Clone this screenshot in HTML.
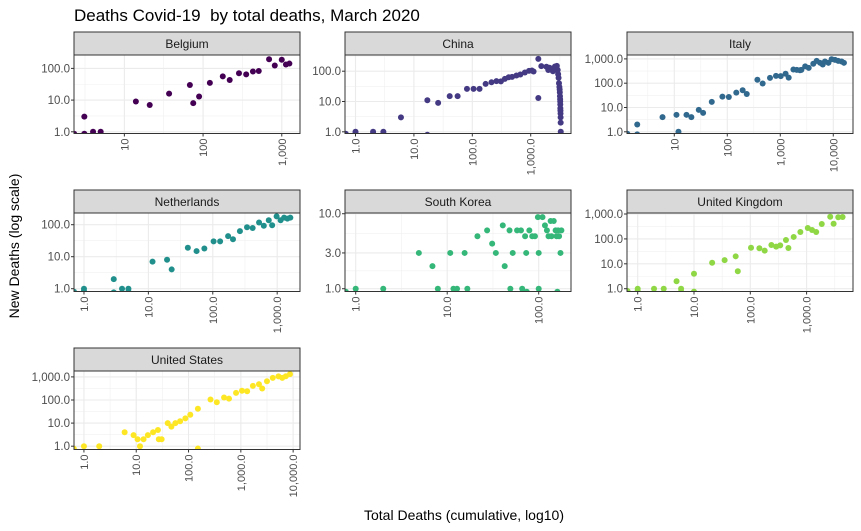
<!DOCTYPE html>
<html><head><meta charset="utf-8"><style>
body{margin:0;background:#fff;}
svg{display:block;font-family:"Liberation Sans",sans-serif;}
</style></head><body>
<svg id="chart" width="861" height="531" viewBox="0 0 861 531" xmlns="http://www.w3.org/2000/svg">
<text x="74" y="21" font-size="17" fill="#000">Deaths Covid-19&#160; by total deaths, March 2020</text>
<text transform="translate(19,246) rotate(-90)" text-anchor="middle" font-size="14" fill="#000">New Deaths (log scale)</text>
<text x="464" y="520" text-anchor="middle" font-size="14" fill="#000">Total Deaths (cumulative, log10)</text>
</svg>
<script>
const belgiumTotal=[2.3,3.1,3.1,4,5,14,21,37,68,75,89,122,178,218,286,353,430,510,690,815,1000,1130,1250];
const belgiumNew=[0.87,0.87,3,1,1,9,7,16,30,8,13,35,56,43,70,65,80,83,195,123,187,133,142];
const chinaTotal=[0.68,1,1,2,2,3,3,6,17,17,26,41,56,81,105,133,169,213,259,309,361,420,480,570,665,795,935,1050,1120,1350,1350,1520,1860,2000,2100,2270,2400,2500,2600,2700,2800,2900,2950,3000,3050,3100,3130,3150,3170,3190,3200,3210,3220,3230,3240,3250,3260,3270];
const chinaNew=[0.86,1,0.86,1,0.86,1,0.86,3,11,0.8,9,15,15,26,26,26,38,43,47,46,56,63,65,72,78,91,103,105,98,255,13,147,140,110,130,120,100,115,143,120,150,110,80,60,40,30,25,20,15,12,10,8,6,5,4,3,2,1];
const italyTotal=[1.3,2,2,6,11,12,17,21,29,35,51,81,107,148,195,233,370,465,640,830,1020,1260,1440,1770,2050,2350,2500,2950,3440,4200,4860,5640,6330,6960,8100,9300,10800,12400,14400,15900];
const italyNew=[0.83,2,0.78,4,5,1,5,4,8,6,17,28,27,41,51,36,138,97,166,201,195,245,170,366,355,340,355,490,427,630,830,690,590,780,690,970,910,830,780,690];
const netherlandsTotal=[0.7,1,1,2.9,2.9,3.9,4.9,4.9,11.6,19.5,23,41,56,74,103,130,173,206,264,340,416,523,620,740,835,980,1130,1280,1440,1600];
const netherlandsNew=[0.8,1,0.85,2,0.77,1,1,0.8,7,8,4,19,15,18,30,30,44,35,63,83,79,117,93,138,96,182,138,166,155,166];
const koreaTotal=[0.78,1,2,4.9,6.9,7.9,10.8,11.7,12.8,15.5,16.6,21.4,27.3,31,34,40.5,42.5,48,49,52,58,64,66,71,74,73,79,85,91,98,100,100,110,117,123,128,135,138,146,153,157,160,163,167,173,177];
const koreaNew=[0.91,1,1,3,2,1,3,1,1,3,1,5,6,4,3,7,2,6,1,3,6,6,1,5,0.91,3,6,5,5,9,3,1,9,7,6,5,8,5,8,6,5,0.91,6,5,3,6];
const ukTotal=[0.66,1,1,1.95,2.9,4.9,5.9,5.9,10,10,21,35,55,60,103,145,180,237,288,340,430,475,590,775,1050,1250,1480,1860,2630,3020,3650,4360];
const ukNew=[0.81,1,0.81,1,1,2,1,0.76,4,0.76,11,14,20,5,44,42,34,57,49,55,90,43,120,190,275,228,190,398,780,408,740,760];
const usTotal=[0.64,1,1.96,6,8.9,10.6,11.8,13.8,16.7,21,26,27,30.6,40,47,56,69,87,108,151,151,263,347,478,594,810,1050,1320,1700,2220,2560,3160,4080,5250,6200,7250,8700];
const usNew=[0.79,1,1,4,3,2,1,2,3,4,5,2,2,10,7,10,12,16,23,0.79,42,105,80,129,115,204,250,240,410,480,316,650,910,1050,910,1070,1320];

const yFmt1=["1.0","10.0","100.0"];
const yFmt2=["1.0","10.0","100.0","1,000.0"];
const yTicksA=[1,10,100];
const yTicksB=[1,10,100,1000];
const koreaYTicks=[1,3,10];
const koreaYLabels=["1.0","3.0","10.0"];
const xTicksBel=[10,100,1000];
const xLabelsBel=["10","100","1,000"];
const xTicks4=[1,10,100,1000];
const xLabels4=["1.0","10.0","100.0","1,000.0"];
const xTicks3=[1,10,100];
const xLabels3=["1.0","10.0","100.0"];
const xTicksIta=[10,100,1000,10000];
const xLabelsIta=["10","100","1,000","10,000"];
const xTicks5=[1,10,100,1000,10000];
const xLabels5=["1.0","10.0","100.0","1,000.0","10,000.0"];

const NS="http://www.w3.org/2000/svg";
const svg=document.getElementById('chart');
function mk(tag,attrs,parent){const e=document.createElementNS(NS,tag);for(const k in attrs)e.setAttribute(k,attrs[k]);(parent||svg).appendChild(e);return e;}

const panels=[
 {name:"Belgium",slug:"belgium",left:74,top:32,w:226,x0:0.36,xd:78.7,y0:-0.054,yd:31.7,xs:belgiumTotal,ys:belgiumNew,xt:xTicksBel,xl:xLabelsBel,yt:yTicksA,yl:yFmt1,col:"#440154"},
 {name:"China",slug:"china",left:345,top:32,w:226,x0:-0.18,xd:58.4,y0:-0.056,yd:30.3,xs:chinaTotal,ys:chinaNew,xt:xTicks4,xl:xLabels4,yt:yTicksA,yl:yFmt1,col:"#443a83"},
 {name:"Italy",slug:"italy",left:627,top:32,w:226,x0:0.108,xd:53,y0:-0.07,yd:24.3,xs:italyTotal,ys:italyNew,xt:xTicksIta,xl:xLabelsIta,yt:yTicksB,yl:yFmt2,col:"#31688e"},
 {name:"Netherlands",slug:"netherlands",left:74,top:190,w:226,x0:-0.155,xd:64.4,y0:-0.0875,yd:32,xs:netherlandsTotal,ys:netherlandsNew,xt:xTicks4,xl:xLabels4,yt:yTicksA,yl:yFmt1,col:"#21908c"},
 {name:"South Korea",slug:"south-korea",left:345,top:190,w:226,x0:-0.117,xd:91.5,y0:-0.037,yd:75,xs:koreaTotal,ys:koreaNew,xt:xTicks3,xl:xLabels3,yt:koreaYTicks,yl:koreaYLabels,col:"#35b779"},
 {name:"United Kingdom",slug:"united-kingdom",left:627,top:190,w:226,x0:-0.19,xd:56.3,y0:-0.112,yd:24.9,xs:ukTotal,ys:ukNew,xt:xTicks4,xl:xLabels4,yt:yTicksB,yl:yFmt2,col:"#8fd744"},
 {name:"United States",slug:"united-states",left:74,top:348,w:226,x0:-0.19,xd:52.3,y0:-0.143,yd:23.1,xs:usTotal,ys:usNew,xt:xTicks5,xl:xLabels5,yt:yTicksB,yl:yFmt2,col:"#fde725"}
];

panels.forEach((p,i)=>{
 const stripH=23, plotTop=p.top+stripH, plotH=78.5, plotBot=plotTop+plotH, right=p.left+p.w;
 const xS=v=>p.left+(Math.log10(v)-p.x0)*p.xd;
 const yS=v=>plotBot-(Math.log10(v)-p.y0)*p.yd;
 const g=mk('g',{});
 
 
 const bg=mk('rect',{x:p.left,y:plotTop,width:p.w,height:plotH,fill:'#fff'},g);
 
 
 const xMin=p.x0, xMax=p.x0+p.w/p.xd, yMin=p.y0, yMax=p.y0+plotH/p.yd;
 const xl=p.xt.map(v=>Math.log10(v)), yl=p.yt.map(v=>Math.log10(v));
 const xStep=xl[1]-xl[0];
 for(let k=xl[0]-xStep*3;k<=xMax;k+=xStep){const m=k+xStep/2;if(m>xMin&&m<xMax){const x=p.left+(m-p.x0)*p.xd;const l=mk('line',{x1:x,x2:x,y1:plotTop,y2:plotBot,stroke:'#f0f0f0','stroke-width':0.6},g);}}
 const yMinors=[];
 for(let j=0;j<yl.length-1;j++)yMinors.push((yl[j]+yl[j+1])/2);
 yMinors.push(yl[0]-(yl[1]-yl[0])/2);yMinors.push(yl[yl.length-1]+(yl[yl.length-1]-yl[yl.length-2])/2);
 yMinors.forEach(m=>{if(m>yMin&&m<yMax){const y=plotBot-(m-p.y0)*p.yd;const l=mk('line',{x1:p.left,x2:right,y1:y,y2:y,stroke:'#f0f0f0','stroke-width':0.6},g);}});
 p.xt.forEach((v,j)=>{const x=xS(v);if(x<p.left-1||x>right+1)return;
  const l=mk('line',{x1:x,x2:x,y1:plotTop,y2:plotBot,stroke:'#ebebeb','stroke-width':1.1},g);
  
  const t=mk('line',{x1:x,x2:x,y1:plotBot,y2:plotBot+3,stroke:'#333','stroke-width':1},g);
  
  const tx=mk('text',{transform:`translate(${x+4},${plotBot+5}) rotate(-90)`,'text-anchor':'end','font-size':11,fill:'#4d4d4d'},g);
  tx.textContent=p.xl[j];
  
 });
 p.yt.forEach((v,j)=>{const y=yS(v);
  const l=mk('line',{x1:p.left,x2:right,y1:y,y2:y,stroke:'#ebebeb','stroke-width':1.1},g);
  
  const t=mk('line',{x1:p.left-3,x2:p.left,y1:y,y2:y,stroke:'#333','stroke-width':1},g);
  
  const tx=mk('text',{x:p.left-4,y:y+4,'text-anchor':'end','font-size':11.5,fill:'#4d4d4d'},g);
  tx.textContent=p.yl[j];
  
 });
 const cp=mk('clipPath',{id:'clip'+i},g);
 mk('rect',{x:p.left,y:plotTop,width:p.w,height:plotH},cp);
 const pg=mk('g',{'clip-path':`url(#clip${i})`},g);
 
 
 p.xs.forEach((v,j)=>{
  const c=mk('circle',{cx:xS(v),cy:yS(p.ys[j]),r:3,fill:p.col},pg);
  
  
 });
 const border=mk('rect',{x:p.left,y:plotTop,width:p.w,height:plotH,fill:'none',stroke:'#333','stroke-width':1},g);
 
 
 const strip=mk('rect',{x:p.left,y:p.top,width:p.w,height:stripH,fill:'#d9d9d9',stroke:'#333','stroke-width':1},g);
 
 
 const st=mk('text',{x:p.left+p.w/2,y:p.top+16,'text-anchor':'middle','font-size':12,fill:'#1a1a1a'},g);
 st.textContent=p.name;
 
 
});
</script>
</body></html>
